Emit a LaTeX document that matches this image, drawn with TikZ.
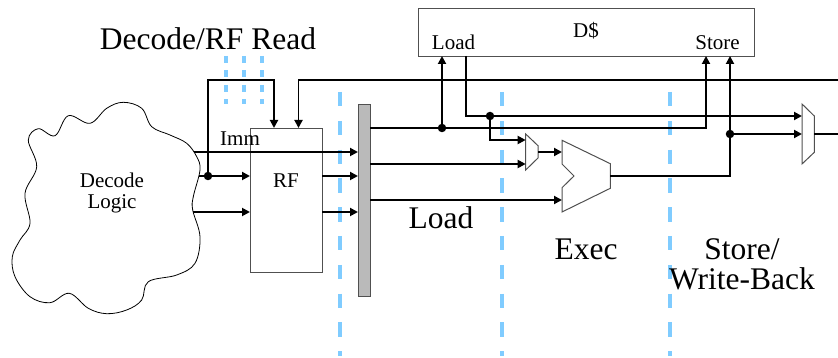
\documentclass[tikz,border=0pt]{standalone}
\usepackage{fontspec}
\setmainfont{Liberation Serif}
\usetikzlibrary{arrows.meta}
\definecolor{pipeblue}{HTML}{80CCFF}
\definecolor{edgegray}{HTML}{505050}
\tikzset{
  wire/.style={draw=black,line width=1.9pt,line join=miter},
  arrowwire/.style={wire,-{Triangle[length=8pt,width=8pt]}},
  stagecut/.style={draw=pipeblue,line width=4.8pt,dash pattern=on 14.5pt off 14.3pt},
  stagecutshort/.style={draw=pipeblue,line width=4.8pt,dash pattern=on 7pt off 7.5pt},
  unitbox/.style={draw=edgegray,line width=1pt,fill=white},
  muxshape/.style={draw=edgegray,line width=1pt,fill=white},
  smalltxt/.style={font=\fontsize{21}{21}\selectfont,anchor=base,inner sep=0pt,text=black},
  bigtxt/.style={font=\fontsize{31.5}{31.5}\selectfont,anchor=base,inner sep=0pt,text=black},
  junction/.style={circle,fill=black,inner sep=0pt,minimum size=8.5pt},
}
\begin{document}
\begin{tikzpicture}[x=1pt,y=-1pt]
\useasboundingbox (0,0) rectangle (838,358);
% stage cuts
\draw[stagecut] (340,92) -- (340,356);
\draw[stagecut] (502,92) -- (502,356);
\draw[stagecut] (670,92) -- (670,356);
\draw[stagecutshort] (226,56) -- (226,104);
\draw[stagecutshort] (244,56) -- (244,104);
\draw[stagecutshort] (262,56) -- (262,104);
% cloud
\draw[black,line width=0.8pt,fill=white] plot[smooth cycle,tension=0.6] coordinates {
(123.3,102.3) (141.7,108.3) (151.7,126.7) (170,135) (186.7,143.3) (196.7,156.7) (200,170)
(193.3,196.7) (192.7,210) (200,236.7) (195,263.3) (176.7,275) (148.3,281.7) (141.7,300)
(126.7,310) (106.7,313.7) (88.3,308.3) (69.3,293.3) (50,302.7) (30,296.7) (15,276.7)
(12.3,256.7) (20,240) (30,223.3) (25,193.3) (36.7,166.7) (28.3,140) (38.3,128.7)
(55,135.7) (68.3,115.7) (90,123.3) (106.7,108.3)};
% units
\node[unitbox,minimum width=72pt,minimum height=144pt,inner sep=0pt,anchor=north west] (rf) at (250,128) {};
\node[unitbox,minimum width=336pt,minimum height=48pt,inner sep=0pt,anchor=north west] (dcache) at (418,8) {};
\node[draw=edgegray,line width=1pt,fill=black!27,minimum width=12pt,minimum height=192pt,inner sep=0pt,anchor=north west] (bar) at (358,104) {};
\draw[muxshape] (525.7,134) -- (538,145.7) -- (538,158) -- (525.7,170) -- cycle;
\draw[muxshape] (562,140.3) -- (610.3,163.7) -- (610.3,188.3) -- (562,212) -- (562,187.7) -- (574,176) -- (562,164) -- cycle;
\draw[muxshape] (802,104) -- (814.3,116) -- (814.3,152.3) -- (802,164) -- cycle;
% ports
\coordinate (rftopa) at (274,128);
\coordinate (rftopb) at (298.5,128);
\coordinate (rfina) at (250,176);
\coordinate (rfinb) at (250,212);
\coordinate (rfouta) at (322,176);
\coordinate (rfoutb) at (322,212);
\coordinate (barina) at (358,152);
\coordinate (barinb) at (358,176);
\coordinate (barinc) at (358,212);
\coordinate (barouta) at (370,128);
\coordinate (baroutb) at (370,164);
\coordinate (baroutc) at (370,200);
\coordinate (cloudimm) at (194,152);
\coordinate (clouda) at (199,176);
\coordinate (cloudb) at (192.5,212);
\coordinate (dload) at (442,56);
\coordinate (dloadout) at (466,56);
\coordinate (dstorea) at (706,56);
\coordinate (dstoreb) at (730,56);
\coordinate (muxaina) at (525.7,140);
\coordinate (muxainb) at (525.7,164);
\coordinate (muxaout) at (538,152);
\coordinate (aluina) at (562,152);
\coordinate (aluinb) at (562,200);
\coordinate (aluout) at (610.3,176);
\coordinate (muxbina) at (802,116);
\coordinate (muxbinb) at (802,134);
\coordinate (muxbout) at (814.3,134);
\coordinate (rightfb) at (838,80);
\coordinate (rightout) at (838,134);
% junctions
\node[junction] (ja) at (208,176) {};
\node[junction] (jb) at (442,128) {};
\node[junction] (jc) at (490,116) {};
\node[junction] (jd) at (730,134) {};
% wires
\draw[arrowwire] (cloudimm) -- (barina);
\draw[arrowwire] (clouda) -- (rfina);
\draw[arrowwire] (cloudb) -- (rfinb);
\draw[arrowwire] (rfouta) -- (barinb);
\draw[arrowwire] (rfoutb) -- (barinc);
\draw[arrowwire] (ja.center) |- (274,80) -- (rftopa);
\draw[arrowwire] (rightfb) -- (298.5,80) -- (rftopb);
\draw[arrowwire] (barouta) -- (706,128) -- (dstorea);
\draw[arrowwire] (jb.center) -- (dload);
\draw[arrowwire] (baroutb) -- (muxainb);
\draw[arrowwire] (baroutc) -- (aluinb);
\draw[arrowwire] (dloadout) -- (466,116) -- (muxbina);
\draw[arrowwire] (jc.center) -- (490,140) -- (muxaina);
\draw[arrowwire] (muxaout) -- (aluina);
\draw[arrowwire] (aluout) -- (730,176) -- (dstoreb);
\draw[arrowwire] (jd.center) -- (muxbinb);
\draw[wire] (muxbout) -- (rightout);
% texts
\node[bigtxt] (tdecode) at (208,50) {Decode/RF Read};
\node[smalltxt] (tdc) at (586,38) {D\$};
\node[smalltxt] (tload) at (453.5,50) {Load};
\node[smalltxt] (tstore) at (717.5,50) {Store};
\node[smalltxt] (timm) at (240,146) {Imm};
\node[smalltxt] (tdl) at (112,188) {Decode};
\node[smalltxt] (tlg) at (112,209) {Logic};
\node[smalltxt] (trf) at (286,188) {RF};
\node[bigtxt] (tbload) at (441,229) {Load};
\node[bigtxt] (texec) at (586,259) {Exec};
\node[bigtxt] (tsto) at (742,259) {Store/};
\node[bigtxt] (twb) at (742,289) {Write-Back};
\end{tikzpicture}
\end{document}
